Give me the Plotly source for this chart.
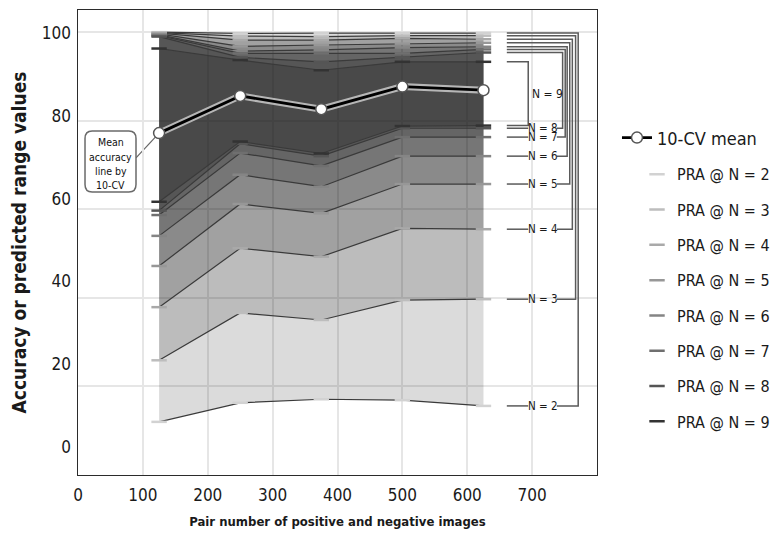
import plotly.graph_objects as go

# ---------------- data ----------------
pairs = [125, 250, 375, 500, 625]
cv_mean = [77.2, 85.6, 82.6, 87.7, 86.9]
n_values = [2, 3, 4, 5, 6, 7, 8, 9]

lower_n2 = [12.0, 16.3, 17.1, 16.9, 15.6]
lower_n3 = [25.9, 36.6, 35.0, 39.5, 39.7]
lower_n4 = [37.9, 51.2, 49.3, 55.7, 55.5]
lower_n5 = [47.2, 61.2, 59.1, 65.7, 65.7]
lower_n6 = [54.0, 67.8, 65.1, 72.0, 72.0]
lower_n7 = [58.7, 72.7, 69.8, 76.3, 76.3]
lower_n8 = [59.7, 74.8, 72.0, 78.3, 78.3]
lower_n9 = [61.7, 75.3, 72.6, 78.8, 78.9]

upper_n2 = [100.0, 99.7, 99.8, 99.8, 99.8]
upper_n3 = [99.9, 99.1, 99.0, 99.2, 99.2]
upper_n4 = [99.8, 98.2, 98.2, 98.6, 98.4]
upper_n5 = [99.6, 96.8, 97.1, 97.4, 97.6]
upper_n6 = [99.4, 95.7, 96.0, 96.5, 96.7]
upper_n7 = [99.2, 95.2, 95.2, 95.2, 96.1]
upper_n8 = [99.0, 94.3, 93.3, 94.3, 95.4]
upper_n9 = [96.3, 93.7, 91.4, 93.3, 93.3]

x_ticks = [0, 100, 200, 300, 400, 500, 600, 700]
y_ticks = [0, 20, 40, 60, 80, 100]

lower = {2: lower_n2, 3: lower_n3, 4: lower_n4, 5: lower_n5,
         6: lower_n6, 7: lower_n7, 8: lower_n8, 9: lower_n9}
upper = {2: upper_n2, 3: upper_n3, 4: upper_n4, 5: upper_n5,
         6: upper_n6, 7: upper_n7, 8: upper_n8, 9: upper_n9}

# ---------------- styles ----------------
FONT = "Liberation Sans Narrow, DejaVu Sans Condensed, Arial Narrow, sans-serif"
shade = {2: '#d2d2d2', 3: '#bdbdbd', 4: '#a9a9a9', 5: '#979797',
         6: '#858585', 7: '#6f6f6f', 8: '#555555', 9: '#333333'}
LINE_C = '#3a3a3a'
FILL_C = 'rgba(0,0,0,0.14)'

fig = go.Figure()

for n in n_values:
    fig.add_trace(go.Scatter(
        x=pairs, y=upper[n], mode='lines+markers',
        line=dict(color=LINE_C, width=1.2),
        marker=dict(symbol='line-ew', size=11, line=dict(width=2.5, color=shade[n])),
        showlegend=False, hoverinfo='skip'))
    fig.add_trace(go.Scatter(
        x=pairs, y=lower[n], mode='lines+markers', fill='tonexty',
        fillcolor=FILL_C,
        line=dict(color=LINE_C, width=1.2),
        marker=dict(symbol='line-ew', size=11, line=dict(width=2.5, color=shade[n])),
        showlegend=False, hoverinfo='skip'))

# mean line halo + line
fig.add_trace(go.Scatter(
    x=pairs, y=cv_mean, mode='lines',
    line=dict(color='rgba(255,255,255,0.6)', width=7),
    showlegend=False, hoverinfo='skip'))
fig.add_trace(go.Scatter(
    x=pairs, y=cv_mean, mode='lines+markers', name='10-CV mean',
    line=dict(color='#000000', width=2.8),
    marker=dict(symbol='circle', size=11, color='white',
                line=dict(color='#555555', width=1.5)),
    legend='legend', hoverinfo='skip'))

# legend-only entries for PRA
for n in n_values:
    fig.add_trace(go.Scatter(
        x=[None], y=[None], mode='markers', name=f'PRA @ N = {n}',
        marker=dict(symbol='line-ew', size=11, line=dict(width=2.5, color=shade[n])),
        legend='legend2', legendgroup=f'g{n}', hoverinfo='skip'))

# dummy trace to carry the label axis
fig.add_trace(go.Scatter(x=[None], y=[None], yaxis='y2', showlegend=False,
                         hoverinfo='skip'))

# ---------------- brackets on the right ----------------
BR_COLOR = '#5a5a5a'
X_L0, X_L1 = 661, 694   # left short segment
X_TXT = 716             # label centre
X_R0 = 738              # right segment start
bracket_x = {2: 771, 3: 767, 4: 762, 5: 758, 6: 754, 7: 751, 8: 747}

shapes = []
annotations = []
for n in n_values[:-1]:
    ly = lower[n][-1]
    uy = upper[n][-1]
    vx = bracket_x[n]
    shapes.append(dict(type='line', xref='x', yref='y', x0=X_L0, x1=X_L1,
                       y0=ly, y1=ly, line=dict(color=BR_COLOR, width=1.5)))
    shapes.append(dict(type='path', xref='x', yref='y',
                       path=f'M {X_R0},{ly} L {vx},{ly} L {vx},{uy} L {X_L0},{uy}',
                       line=dict(color=BR_COLOR, width=1.5)))
    annotations.append(dict(x=X_TXT, y=ly, xref='x', yref='y', text=f'N = {n}',
                            showarrow=False, font=dict(size=11.5, color='#1a1a1a'),
                            borderpad=0))

n9 = n_values[-1]
ly9, uy9 = lower[n9][-1], upper[n9][-1]
shapes.append(dict(type='path', xref='x', yref='y',
                   path=f'M {X_L0},{uy9} L {X_L1},{uy9} L {X_L1},{ly9} L {X_L0},{ly9}',
                   line=dict(color=BR_COLOR, width=1.5)))
annotations.append(dict(x=X_L1 + 2, y=(ly9 + uy9) / 2, xref='x', yref='y',
                        text=f'N = {n9}', showarrow=False, xanchor='left',
                        font=dict(size=12, color='#1a1a1a')))

# ---------------- callout ----------------
bx0, bx1, by0, by1 = 10.8, 89.4, 63.9, 77.7
rx, ry = 11.0, 1.7
box_path = (f'M {bx0+rx},{by1} L {bx1-rx},{by1} Q {bx1},{by1} {bx1},{by1-ry} '
            f'L {bx1},{by0+ry} Q {bx1},{by0} {bx1-rx},{by0} '
            f'L {bx0+rx},{by0} Q {bx0},{by0} {bx0},{by0+ry} '
            f'L {bx0},{by1-ry} Q {bx0},{by1} {bx0+rx},{by1} Z')
shapes.append(dict(type='line', xref='x', yref='y', x0=bx1, y0=71.6,
                   x1=pairs[0], y1=cv_mean[0], layer='below',
                   line=dict(color='#666666', width=1.2)))
shapes.append(dict(type='path', xref='x', yref='y', path=box_path,
                   fillcolor='white', line=dict(color='#6a6a6a', width=1.5)))
for txt, yy in zip(['Mean', 'accuracy', 'line by', '10-CV'], [75.2, 71.9, 68.7, 65.5]):
    annotations.append(dict(x=(bx0 + bx1) / 2, y=yy, xref='x', yref='y', text=txt,
                            showarrow=False, font=dict(size=10.5, color='#111111')))

GRID = '#e6e6e6'
fig.update_layout(
    width=774, height=535,
    margin=dict(l=78, r=177, t=10, b=60, autoexpand=False),
    plot_bgcolor='white', paper_bgcolor='white',
    font=dict(family=FONT, size=16, color='#1a1a1a'),
    xaxis=dict(range=[0, 800], tickvals=x_ticks, showgrid=True, gridcolor=GRID,
               gridwidth=1.5, showline=True, mirror=True, linecolor='#2b2b2b',
               linewidth=1.2, zeroline=False, ticks='', tickfont=dict(size=17),
               ticklabelstandoff=4, automargin=False,
               title=dict(text='<b>Pair number of positive and negative images</b>',
                          font=dict(size=13), standoff=13)),
    yaxis=dict(range=[0, 105], tickvals=y_ticks, showticklabels=False, showgrid=True,
               gridcolor=GRID, gridwidth=1.5, showline=True, mirror=True,
               linecolor='#2b2b2b', linewidth=1.2, zeroline=False, ticks='',
               automargin=False),
    yaxis2=dict(overlaying='y', side='left', range=[-6.8, 105.6], tickvals=y_ticks,
                showgrid=False, zeroline=False, showline=False, ticks='',
                tickfont=dict(size=17), ticklabelstandoff=6, automargin=False,
                title=dict(text='<b>Accuracy or predicted range values</b>',
                           font=dict(size=19), standoff=10)),
    legend=dict(x=1.0385, xanchor='left', y=0.725, yanchor='middle',
                bgcolor='rgba(0,0,0,0)', font=dict(size=18), itemwidth=30),
    legend2=dict(x=1.0771, xanchor='left', y=0.381, yanchor='middle',
                 bgcolor='rgba(0,0,0,0)', font=dict(size=16), itemwidth=30,
                 tracegroupgap=11.5),
    shapes=shapes,
    annotations=annotations,
)

fig.write_html("out.html", config={'displayModeBar': False},
               post_script="document.body.style.margin='0px';")
